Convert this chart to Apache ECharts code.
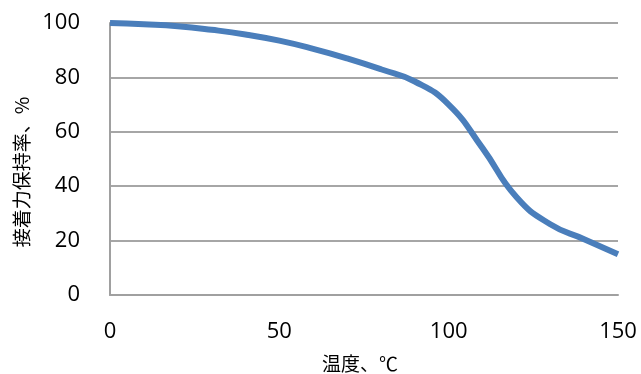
<!DOCTYPE html>
<html><head><meta charset="utf-8">
<script src="https://cdn.jsdelivr.net/npm/echarts@6/dist/echarts.min.js"></script>
<style>html,body{margin:0;padding:0;background:#fff}#c{width:641px;height:374px}</style>
</head><body><div id="c"></div>
<script>
const temperature = [0, 10, 20, 30, 40, 50, 60, 70, 80, 90, 100, 110, 120, 130, 140, 150];
const retention = [100, 99.5, 98.8, 97.5, 95.8, 93.5, 90.5, 87, 83, 78.5, 70, 54, 36, 26, 20.5, 15];
const xTicks = [0, 50, 100, 150];
const yTicks = [0, 20, 40, 60, 80, 100];
const xName = '温度、℃';
const yName = '接着力保持率、%';

const chart = echarts.init(document.getElementById('c'));
const labelFont = {fontFamily: 'Open Sans', fontSize: 22, color: '#000'};
chart.setOption({
  animation: false,
  grid: {left: 110, right: 23, top: 23, bottom: 79, outerBoundsMode: 'none', containLabel: false},
  xAxis: {
    type: 'value', min: 0, max: 150, interval: 50,
    name: xName, nameLocation: 'middle', nameGap: 59,
    nameTextStyle: {fontFamily: 'Noto Sans CJK JP', fontSize: 19, color: '#000', padding: [0, 8, 0, 0]},
    axisLine: {lineStyle: {color: '#a0a0a0', width: 2}},
    axisTick: {show: false},
    splitLine: {show: false},
    axisLabel: Object.assign({margin: 26, formatter: v => xTicks.includes(v) ? String(v) : ''}, labelFont)
  },
  yAxis: {
    type: 'value', min: 0, max: 100, interval: 20,
    name: yName, nameLocation: 'middle', nameGap: 79, nameRotate: 90,
    nameTextStyle: {fontFamily: 'Noto Sans CJK JP', fontSize: 19, color: '#000', padding: [0, 26, 0, 0]},
    axisLine: {show: true, lineStyle: {color: '#a0a0a0', width: 2}},
    axisTick: {show: false},
    splitLine: {lineStyle: {color: '#a6a6a6', width: 2}},
    axisLabel: Object.assign({margin: 30, formatter: v => yTicks.includes(v) ? String(v) : ''}, labelFont)
  },
  series: [{
    type: 'line', smooth: true, showSymbol: false,
    data: temperature.map((t, i) => [t, retention[i]]),
    lineStyle: {color: '#4a7ebb', width: 6}
  }]
});
</script></body></html>
